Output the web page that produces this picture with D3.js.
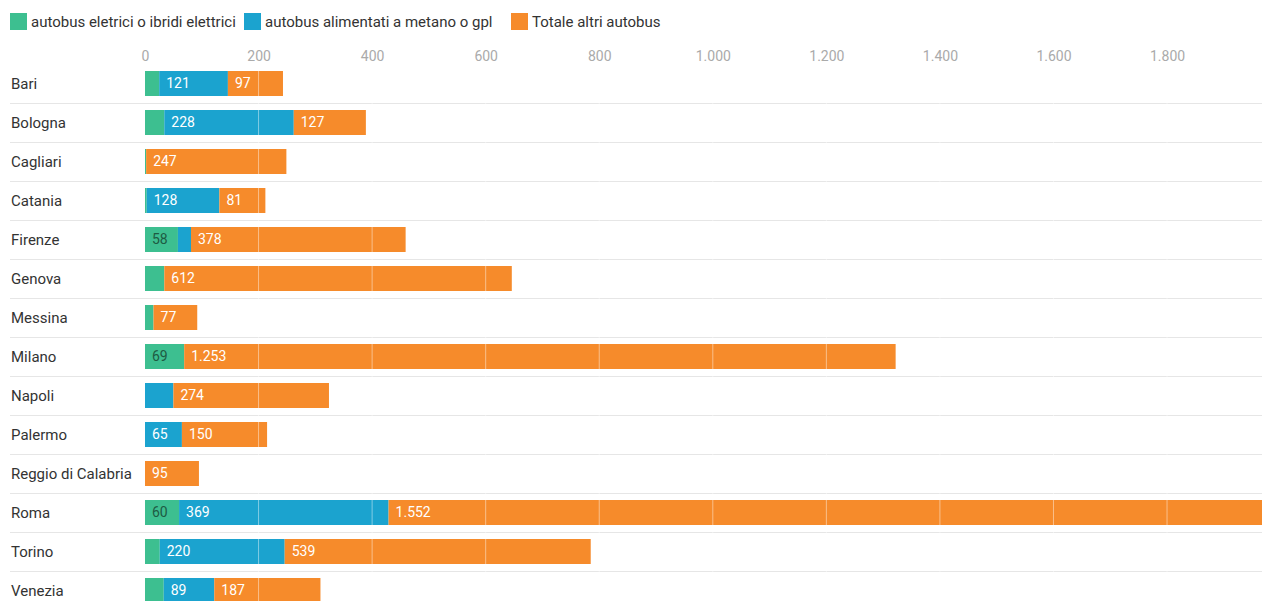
<!DOCTYPE html>
<html>
<head>
<meta charset="utf-8">
<script src="https://cdn.jsdelivr.net/npm/d3@7"></script>
<style>
  html, body { margin: 0; padding: 0; background: #fff; }
  svg { display: block; font-family: Roboto, "Noto Sans", sans-serif; }
</style>
</head>
<body>
<svg id="chart" width="1262" height="601"></svg>
<script>
// Bus fleet by city: electric/hybrid, methane/LPG, other buses
const cities = ["Bari", "Bologna", "Cagliari", "Catania", "Firenze", "Genova", "Messina",
  "Milano", "Napoli", "Palermo", "Reggio di Calabria", "Roma", "Torino", "Venezia"];
const elettrici = [25, 34, 2, 3, 58, 34, 15, 69, 0, 0, 0, 60, 26, 33];
const metano    = [121, 228, 0, 128, 23, 0, 0, 0, 50, 65, 0, 369, 220, 89];
const altri     = [97, 127, 247, 81, 378, 612, 77, 1253, 274, 150, 95, 1552, 539, 187];

const seriesNames = ["autobus eletrici o ibridi elettrici", "autobus alimentati a metano o gpl", "Totale altri autobus"];
const seriesKeys = ["elettrici", "metano", "altri"];
const colors = ["#3dbf90", "#1ba3cf", "#f68b2b"];
const labelColors = ["#1d5b43", "#ffffff", "#ffffff"];
const tickValues = [0, 200, 400, 600, 800, 1000, 1200, 1400, 1600, 1800];

const it = d3.formatLocale({ decimal: ",", thousands: ".", grouping: [3], currency: ["€", ""] });
const fmt = it.format(",d");

const rows = cities.map((c, i) => ({ city: c, elettrici: elettrici[i], metano: metano[i], altri: altri[i] }));
const stacked = d3.stack().keys(seriesKeys)(rows);

const svg = d3.select("#chart");
const W = 1262, H = 601;

const x = d3.scaleLinear().domain([0, 2000]).range([145, 145 + 2000 * 0.5678]);
const y = d3.scaleBand().domain(cities).range([64, 64 + 39 * cities.length]).padding(0);
const barInset = 7, barH = 25;

// Legend
const legend = svg.append("g");
const legendX = [10, 244, 511];
seriesNames.forEach((name, i) => {
  const g = legend.append("g").attr("transform", `translate(${legendX[i]},13)`);
  g.append("rect").attr("width", 17).attr("height", 17).attr("fill", colors[i]);
  g.append("text").attr("x", 21).attr("y", 13.5).attr("font-size", 15).attr("fill", "#333").text(name);
});

// Row separators
svg.append("g").selectAll("line")
  .data(cities.slice(0, -1))
  .join("line")
  .attr("x1", 10).attr("x2", W)
  .attr("y1", d => y(d) + y.bandwidth() + 0.5)
  .attr("y2", d => y(d) + y.bandwidth() + 0.5)
  .attr("stroke", "#e6e6e6").attr("stroke-width", 1);

// Axis labels
const axis = d3.axisTop(x).tickValues(tickValues).tickFormat(fmt).tickSize(0).tickPadding(0);
const axG = svg.append("g").attr("transform", "translate(0,61)").call(axis);
axG.select(".domain").remove();
axG.selectAll("text").attr("fill", "#aaaaaa").attr("font-size", 14)
  .attr("font-family", "Roboto, sans-serif");

// City labels
svg.append("g").selectAll("text")
  .data(cities)
  .join("text")
  .attr("x", 11)
  .attr("y", d => y(d) + barInset + barH / 2)
  .attr("dy", "0.35em")
  .attr("font-size", 15)
  .attr("fill", "#333")
  .text(d => d);

// Bars
const layers = svg.append("g").selectAll("g")
  .data(stacked)
  .join("g")
  .attr("fill", (d, i) => colors[i]);

layers.selectAll("rect")
  .data(d => d.filter(s => s[1] - s[0] > 0))
  .join("rect")
  .attr("x", d => x(d[0]))
  .attr("width", d => x(d[1]) - x(d[0]))
  .attr("y", d => y(d.data.city) + barInset)
  .attr("height", barH);

// Faint white gridlines drawn over the bars
svg.append("g").selectAll("line")
  .data(tickValues.slice(1))
  .join("line")
  .attr("x1", d => x(d)).attr("x2", d => x(d))
  .attr("y1", 64).attr("y2", H)
  .attr("stroke", "#ffffff").attr("stroke-opacity", 0.45).attr("stroke-width", 1);

// Value labels inside segments wide enough to hold them
stacked.forEach((layer, i) => {
  svg.append("g").selectAll("text")
    .data(layer.filter(s => x(s[1]) - x(s[0]) >= 30))
    .join("text")
    .attr("x", d => x(d[0]) + 7)
    .attr("y", d => y(d.data.city) + barInset + barH / 2)
    .attr("dy", "0.35em")
    .attr("font-size", 14)
    .attr("fill", labelColors[i])
    .text(d => fmt(d[1] - d[0]));
});
</script>
</body>
</html>
